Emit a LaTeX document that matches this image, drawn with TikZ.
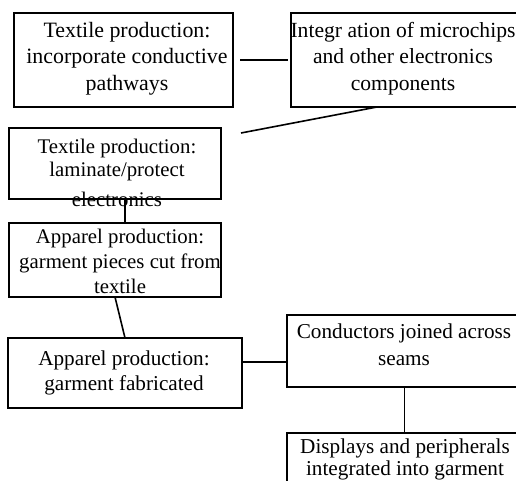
\documentclass[tikz,border=0pt]{standalone}
\usepackage{fontspec}
\setmainfont{Liberation Serif}
\begin{document}
\begin{tikzpicture}[x=1pt,y=-1pt,
  box/.style={draw=black, line width=1.8pt, rectangle, inner sep=0pt, outer sep=0pt},
  txt/.style={anchor=north, inner sep=0pt, align=center, text=black},
  conn/.style={draw=black, line width=1.6pt}]
\clip (0,0) rectangle (516,481);
\fill[white] (0,0) rectangle (516,481);
% boxes
\node[box, minimum width=219pt, minimum height=94pt] (b1) at (123.5,60) {};
\node[box, minimum width=229pt, minimum height=94pt] (b2) at (405.5,60) {};
\node[box, minimum width=212pt, minimum height=71pt] (b3) at (115,163.5) {};
\node[box, minimum width=212pt, minimum height=74pt] (b4) at (115,260) {};
\node[box, minimum width=234pt, minimum height=70pt] (b5) at (125,373) {};
\node[box, minimum width=235pt, minimum height=72pt] (b6) at (404.5,351) {};
\node[box, minimum width=235pt, minimum height=67pt] (b7) at (404.5,466.5) {};
% texts
\node[txt, font=\fontsize{21.9}{26}\selectfont] (t1) at (127,22.3)
  {Textile production:\\incorporate conductive\\[1pt]pathways};
\node[txt, font=\fontsize{21.6}{26}\selectfont] (t2) at (403,22.3)
  {Integr ation of microchips\\and other electronics\\[1pt]components};
\node[txt, font=\fontsize{20.8}{23}\selectfont] (t3) at (117,138.8)
  {Textile production:\\laminate/protect\\[7pt]electronics};
\node[txt, font=\fontsize{20.8}{25}\selectfont] (t4) at (120,228.8)
  {Apparel production:\\garment pieces cut from\\textile};
\node[txt, font=\fontsize{21.2}{25}\selectfont] (t5) at (124,350.5)
  {Apparel production:\\garment fabricated};
\node[txt, font=\fontsize{21.2}{27}\selectfont] (t6) at (404,323.5)
  {Conductors joined across\\seams};
\node[txt, font=\fontsize{21.2}{22}\selectfont] (t7) at (405,438.5)
  {Displays and peripherals\\integrated into garment};
% connectors
\coordinate (p3) at (241,133);
\draw[conn, shorten <=7pt, shorten >=3pt] (b1.east) -- (b2.west);
\draw[conn] ([xshift=-28.5pt]b2.south) -- (p3);
\draw[conn] ([xshift=10pt]b3.south) -- ([xshift=10pt]b4.north);
\draw[conn] (b4.south) -- (b5.north);
\draw[conn] ([yshift=11pt]b5.east) -- ([yshift=11pt]b5.east -| b6.west);
\draw[conn] (b6.south) -- (b7.north);
\end{tikzpicture}
\end{document}
